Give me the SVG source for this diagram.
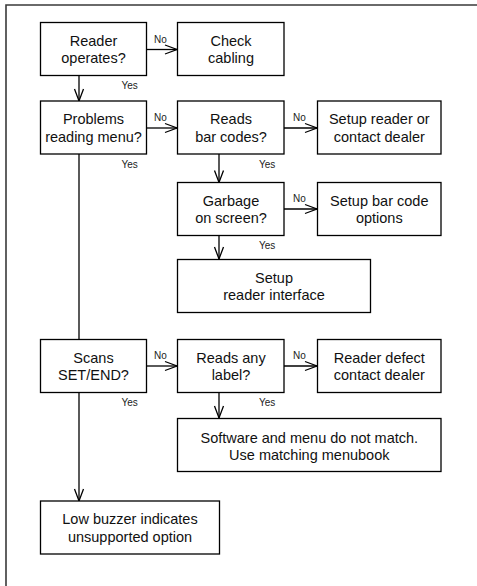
<svg xmlns="http://www.w3.org/2000/svg" width="477" height="586" viewBox="0 0 477 586">
<defs>
<style>
.box{fill:#fff;stroke:#000;stroke-width:1.3}
.t{font-family:"Liberation Sans",Arial,sans-serif;font-size:14.5px;fill:#111;text-anchor:middle}
.s{font-family:"Liberation Sans",Arial,sans-serif;font-size:10px;fill:#222}
.c{fill:none;stroke:#000;stroke-width:1.3}
</style>
<marker id="ah" markerUnits="userSpaceOnUse" markerWidth="16" markerHeight="12" viewBox="-13 -6 16 12" refX="0" refY="0" orient="auto">
<path d="M-12,-4.5 L0,0 L-12,4.5" fill="none" stroke="#000" stroke-width="1.3"/>
</marker>
</defs>
<rect width="477" height="586" fill="#fff"/>
<path d="M6,586 V5 H477" fill="none" stroke="#3a3a3a" stroke-width="1.6"/>
<g id="connectors">
<path class="c" d="M146.5,49.5 H177" marker-end="url(#ah)"/>
<path class="c" d="M79,75 V101" marker-end="url(#ah)"/>
<path class="c" d="M146.5,128 H177" marker-end="url(#ah)"/>
<path class="c" d="M284,128 H317" marker-end="url(#ah)"/>
<path class="c" d="M219,154 V182.5" marker-end="url(#ah)"/>
<path class="c" d="M284,209 H317" marker-end="url(#ah)"/>
<path class="c" d="M219,235 V259" marker-end="url(#ah)"/>
<path class="c" d="M79,154 V339"/>
<path class="c" d="M146.5,366 H177" marker-end="url(#ah)"/>
<path class="c" d="M284,366 H317" marker-end="url(#ah)"/>
<path class="c" d="M219,392 V418" marker-end="url(#ah)"/>
<path class="c" d="M79,392 V501" marker-end="url(#ah)"/>
<text class="s" x="154" y="42.5">No</text>
<text class="s" x="121.5" y="88.5">Yes</text>
<text class="s" x="154" y="121">No</text>
<text class="s" x="121.5" y="167.5">Yes</text>
<text class="s" x="293" y="121">No</text>
<text class="s" x="259" y="167.5">Yes</text>
<text class="s" x="293" y="202">No</text>
<text class="s" x="259" y="248.5">Yes</text>
<text class="s" x="154" y="359">No</text>
<text class="s" x="121.5" y="405.5">Yes</text>
<text class="s" x="293" y="359">No</text>
<text class="s" x="259" y="405.5">Yes</text>
</g>
<g id="reader-operates"><rect class="box" x="40.5" y="22.5" width="106" height="53"/><text class="t" x="93.5" y="45.7">Reader</text><text class="t" x="93.5" y="63.3">operates?</text></g>
<g id="check-cabling"><rect class="box" x="177.5" y="22.5" width="106.5" height="53"/><text class="t" x="231" y="45.7">Check</text><text class="t" x="231" y="63.3">cabling</text></g>
<g id="problems-reading"><rect class="box" x="40.5" y="101" width="106" height="53"/><text class="t" x="93.5" y="124.2">Problems</text><text class="t" x="93.5" y="141.8">reading menu?</text></g>
<g id="reads-bar-codes"><rect class="box" x="177.5" y="101" width="106.5" height="53"/><text class="t" x="231" y="124.2">Reads</text><text class="t" x="231" y="141.8">bar codes?</text></g>
<g id="setup-reader-dealer"><rect class="box" x="317.5" y="101" width="123.5" height="53"/><text class="t" x="379.3" y="124.2">Setup reader or</text><text class="t" x="379.3" y="141.8">contact dealer</text></g>
<g id="garbage"><rect class="box" x="177.5" y="182.5" width="106.5" height="53"/><text class="t" x="231" y="205.7">Garbage</text><text class="t" x="231" y="223.3">on screen?</text></g>
<g id="setup-bar-code"><rect class="box" x="317.5" y="182.5" width="123.5" height="53"/><text class="t" x="379.3" y="205.7">Setup bar code</text><text class="t" x="379.3" y="223.3">options</text></g>
<g id="setup-interface"><rect class="box" x="177.5" y="259.5" width="193" height="53"/><text class="t" x="274" y="282.7">Setup</text><text class="t" x="274" y="300">reader interface</text></g>
<g id="scans-set-end"><rect class="box" x="40.5" y="339.5" width="106" height="53"/><text class="t" x="93.5" y="362.7">Scans</text><text class="t" x="93.5" y="380.3">SET/END?</text></g>
<g id="reads-any-label"><rect class="box" x="177.5" y="339.5" width="106.5" height="53"/><text class="t" x="231" y="362.7">Reads any</text><text class="t" x="231" y="380.3">label?</text></g>
<g id="reader-defect"><rect class="box" x="317.5" y="339.5" width="123.5" height="53"/><text class="t" x="379.3" y="362.7">Reader defect</text><text class="t" x="379.3" y="380.3">contact dealer</text></g>
<g id="software-menu"><rect class="box" x="177.5" y="418.5" width="263.5" height="53"/><text class="t" x="309.3" y="442.7">Software and menu do not match.</text><text class="t" x="309.3" y="460">Use matching menubook</text></g>
<g id="low-buzzer"><rect class="box" x="40.5" y="501" width="179" height="53"/><text class="t" x="130" y="524.2">Low buzzer indicates</text><text class="t" x="130" y="541.8">unsupported option</text></g>
</svg>
